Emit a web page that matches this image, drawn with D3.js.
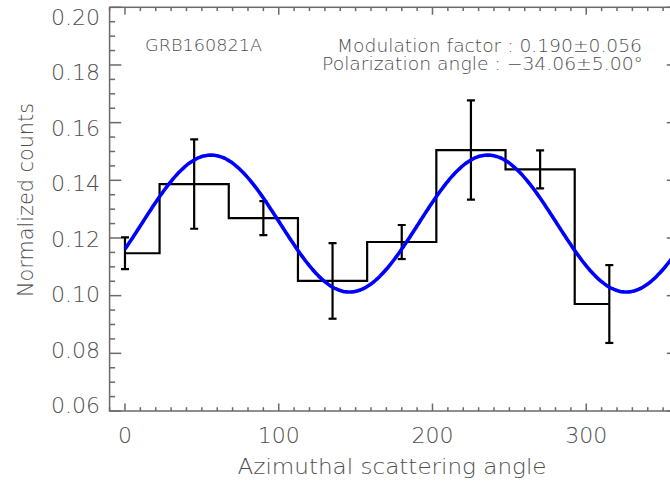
<!DOCTYPE html>
<html>
<head>
<meta charset="utf-8">
<script src="https://cdn.jsdelivr.net/npm/d3@7"></script>
<style>
  html, body { margin: 0; padding: 0; background: #fff; }
  svg { display: block; }
  text { font-family: "DejaVu Sans", sans-serif; font-weight: 200; fill: #4e4e4e; }
</style>
</head>
<body>
<svg id="chart" width="670" height="483"></svg>
<script>
// Azimuthal distribution of scattering angles (normalized counts per 45° bin)
const angles = [0, 45, 90, 135, 180, 225, 270, 315];
const counts = [0.1147, 0.1387, 0.1269, 0.1051, 0.1186, 0.1505, 0.1438, 0.0971];
const errors = [0.0055, 0.0155, 0.0059, 0.0131, 0.0059, 0.0172, 0.0066, 0.0135];

// Fitted modulation curve parameters
const meanCount = 0.125;
const modulationFactor = 0.190;
const modulationError = 0.056;
const polarizationAngle = -34.06;
const polarizationError = 5.00;

const xTicks = [0, 100, 200, 300];
const yTicks = [0.06, 0.08, 0.10, 0.12, 0.14, 0.16, 0.18, 0.20];
const sourceName = "GRB160821A";

const svg = d3.select("#chart");
const plotLeft = 109.6, plotRight = 678.5, plotTop = 7.3, plotBottom = 411;

const x = d3.scaleLinear().domain([-10, 360]).range([plotLeft, plotRight]);
const y = d3.scaleLinear().domain([0.06, 0.20]).range([plotBottom, plotTop]);
// tick labels sit slightly inside the end ticks
const yLabel = d3.scaleLinear().domain([0.06, 0.20]).range([405, 17]);

const axisColor = "#6a6a6a";

// clip for the data marks
svg.append("defs").append("clipPath").attr("id", "plotClip")
  .append("rect").attr("x", plotLeft).attr("y", plotTop)
  .attr("width", plotRight - plotLeft).attr("height", plotBottom - plotTop);

// ---- axes ----
const xMinor = d3.range(-10, 361, 10);
const yMinor = d3.range(0, 29).map(i => 0.06 + i * 0.005);

const ax = svg.append("g").attr("stroke", axisColor).attr("stroke-width", 1.5).attr("fill", "none");
ax.append("rect").attr("x", plotLeft).attr("y", plotTop)
  .attr("width", plotRight - plotLeft).attr("height", plotBottom - plotTop);

const isMajorX = v => xTicks.some(t => Math.abs(t - v) < 1e-6);
const isMajorY = v => yTicks.some(t => Math.abs(t - v) < 1e-6);

xMinor.forEach(v => {
  const len = isMajorX(v) ? 7.5 : 3.8;
  ax.append("line").attr("x1", x(v)).attr("x2", x(v)).attr("y1", plotBottom).attr("y2", plotBottom - len);
  ax.append("line").attr("x1", x(v)).attr("x2", x(v)).attr("y1", plotTop).attr("y2", plotTop + len);
});
yMinor.forEach(v => {
  const len = isMajorY(v) ? 11.7 : 5.5;
  ax.append("line").attr("x1", plotLeft).attr("x2", plotLeft + len).attr("y1", y(v)).attr("y2", y(v));
  ax.append("line").attr("x1", plotRight).attr("x2", plotRight - len).attr("y1", y(v)).attr("y2", y(v));
});

// tick labels
svg.append("g").selectAll("text").data(xTicks).join("text")
  .attr("x", d => x(d)).attr("y", 443)
  .attr("text-anchor", "middle").attr("font-size", 22)
  .text(d => d);

svg.append("g").selectAll("text").data(yTicks).join("text")
  .attr("x", 100).attr("y", d => yLabel(d) + 8)
  .attr("text-anchor", "end").attr("font-size", 22)
  .text(d => d.toFixed(2));

// axis titles
svg.append("text")
  .attr("x", 392).attr("y", 474)
  .attr("text-anchor", "middle").attr("font-size", 22)
  .attr("textLength", 309).attr("lengthAdjust", "spacingAndGlyphs")
  .text("Azimuthal scattering angle");

svg.append("text")
  .attr("transform", "translate(33,200) rotate(-90)")
  .attr("text-anchor", "middle").attr("font-size", 22)
  .attr("textLength", 194).attr("lengthAdjust", "spacingAndGlyphs")
  .text("Normalized counts");

// ---- histogram (step) ----
const plot = svg.append("g").attr("clip-path", "url(#plotClip)");

const stepPts = [];
angles.forEach((a, i) => {
  const x0 = i === 0 ? a : (angles[i - 1] + a) / 2;
  const x1 = i === angles.length - 1 ? a : (a + angles[i + 1]) / 2;
  stepPts.push([x0, counts[i]], [x1, counts[i]]);
});
plot.append("path")
  .attr("d", d3.line().x(d => x(d[0])).y(d => y(d[1]))(stepPts))
  .attr("fill", "none").attr("stroke", "#000").attr("stroke-width", 2.2);

// error bars
const eb = plot.append("g").attr("stroke", "#000").attr("stroke-width", 2.2);
angles.forEach((a, i) => {
  const lo = counts[i] - errors[i], hi = counts[i] + errors[i];
  eb.append("line").attr("x1", x(a)).attr("x2", x(a)).attr("y1", y(lo)).attr("y2", y(hi));
  eb.append("line").attr("x1", x(a) - 4).attr("x2", x(a) + 4).attr("y1", y(lo)).attr("y2", y(lo));
  eb.append("line").attr("x1", x(a) - 4).attr("x2", x(a) + 4).attr("y1", y(hi)).attr("y2", y(hi));
});

// fitted modulation curve: C(phi) = A [1 + mu cos 2(phi - phi0 - 90)]
const phiPeak = polarizationAngle + 90;
const fitPts = d3.range(0, 360.5, 1).map(phi =>
  [phi, meanCount * (1 + modulationFactor * Math.cos(2 * (phi - phiPeak) * Math.PI / 180))]);
plot.append("path")
  .attr("d", d3.line().x(d => x(d[0])).y(d => y(d[1])).curve(d3.curveMonotoneX)(fitPts))
  .attr("fill", "none").attr("stroke", "#0000ff").attr("stroke-width", 3.6);

// ---- annotations ----
svg.append("text")
  .attr("x", 145).attr("y", 50.7).attr("font-size", 15)
  .attr("textLength", 117).attr("lengthAdjust", "spacingAndGlyphs")
  .text(sourceName);

svg.append("text")
  .attr("x", 642).attr("y", 51.5).attr("text-anchor", "end").attr("font-size", 17)
  .attr("textLength", 305).attr("lengthAdjust", "spacingAndGlyphs")
  .text(`Modulation factor : ${modulationFactor.toFixed(3)}\u00b1${modulationError.toFixed(3)}`);

svg.append("text")
  .attr("x", 643).attr("y", 70).attr("text-anchor", "end").attr("font-size", 17)
  .attr("textLength", 321).attr("lengthAdjust", "spacingAndGlyphs")
  .text(`Polarization angle : \u2212${Math.abs(polarizationAngle).toFixed(2)}\u00b1${polarizationError.toFixed(2)}\u00b0`);
</script>
</body>
</html>
